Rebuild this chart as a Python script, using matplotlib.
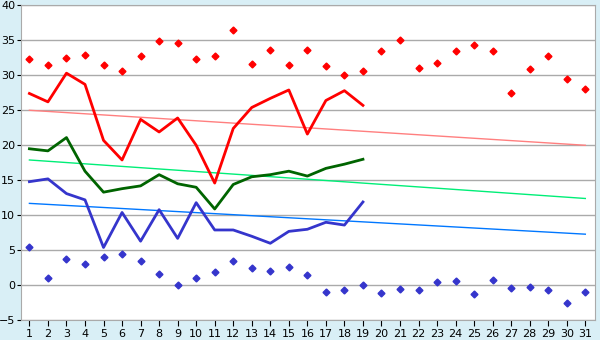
import numpy as np
import matplotlib.pyplot as plt

dias = np.arange(1, 32)

# récords (rombos)
rec_max = [32.3, 31.4, 32.4, 32.9, 31.4, 30.6, 32.7, 34.9, 34.6, 32.3,
           32.7, 36.4, 31.6, 33.6, 31.4, 33.6, 31.3, 30.0, 30.6, 33.4,
           35.0, 31.0, 31.7, 33.4, 34.3, 33.4, 27.4, 30.9, 32.7, 29.4, 28.1]
rec_min = [5.4, 1.0, 3.7, 3.1, 4.0, 4.4, 3.4, 1.6, 0.0, 1.0,
           1.9, 3.4, 2.4, 2.0, 2.6, 1.4, -1.0, -0.7, 0.0, -1.1,
           -0.6, -0.7, 0.4, 0.6, -1.3, 0.7, -0.4, -0.3, -0.7, -2.6, -1.0]

# valores del mes (días 1-19)
t_max = [27.4, 26.2, 30.3, 28.7, 20.7, 17.9, 23.7, 21.9, 23.9, 20.0,
         14.6, 22.4, 25.4, 26.7, 27.9, 21.6, 26.4, 27.8, 25.7]
t_med = [19.5, 19.2, 21.1, 16.3, 13.3, 13.8, 14.2, 15.8, 14.5, 14.0,
         10.9, 14.4, 15.5, 15.8, 16.3, 15.6, 16.7, 17.3, 18.0]
t_min = [14.8, 15.2, 13.1, 12.2, 5.4, 10.4, 6.3, 10.8, 6.7, 11.8,
         7.9, 7.9, 7.0, 6.0, 7.7, 8.0, 9.0, 8.6, 11.9]

# tendencias (día 1 y día 31)
tend_dias = [1, 31]
tend_max = [25.0, 20.0]
tend_med = [17.9, 12.4]
tend_min = [11.7, 7.3]

fig = plt.figure(figsize=(6, 3.4), dpi=100, facecolor='#d9eff6')
ax = fig.add_axes([0.0345, 0.058, 0.9577, 0.9265])
ax.set_facecolor('white')

ax.plot(tend_dias, tend_max, color='#ff7f7f', lw=1)
ax.plot(tend_dias, tend_med, color='#00ee77', lw=1)
ax.plot(tend_dias, tend_min, color='#0077ff', lw=1)

n = len(t_max)
ax.plot(dias[:n], t_max, color='#ff0000', lw=2)
ax.plot(dias[:n], t_med, color='#006400', lw=2)
ax.plot(dias[:n], t_min, color='#3535cc', lw=2)

ax.plot(dias, rec_max, 'D', color='#ff0000', ms=3.5, mec='#ff0000')
ax.plot(dias, rec_min, 'D', color='#3535cc', ms=3.5, mec='#3535cc')

ax.set_xlim(0.53, 31.54)
ax.set_ylim(-5, 40)
ax.set_xticks(dias)
ax.set_yticks(np.arange(-5, 41, 5))
ax.yaxis.grid(True, color='#aaaaaa', lw=1)
ax.set_axisbelow(True)
for s in ax.spines.values():
    s.set_color('#aaaaaa')
ax.tick_params(axis='y', labelsize=8, length=3, pad=1, color='#000000')
ax.tick_params(axis='x', labelsize=8, length=4, pad=2, color='#000000')

plt.savefig('out.png', dpi=100, facecolor=fig.get_facecolor())
